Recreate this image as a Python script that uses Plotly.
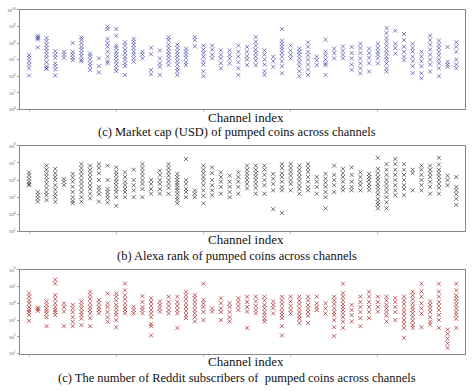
import plotly.graph_objects as go

# ---------------- data (one list per channel, index 0..49) ----------------
market_cap = [
    [1.9e7, 1.3e7, 8e6, 5e6, 3e6, 1.1e6],
    [2.8e8, 2.2e8, 2e8, 1.6e8, 5.5e7],
    [2e8, 1.3e8, 8e7, 5e7, 3.2e7, 2e7, 1.3e7, 7e6, 4e6, 3e6, 2.8e6],
    [3.2e7, 2e7, 1.3e7, 6e6, 4e6, 2.5e6, 1.1e6],
    [3e7, 2e7, 1.3e7],
    [1e8, 3e7, 2e7, 1.3e7, 9e6],
    [2.2e8, 1.6e8, 1e8, 6e7, 4e7, 2.5e7, 1.6e7, 1e7, 8e6],
    [2.3e7, 1.6e7, 1e7, 6e6, 4e6, 2.4e6],
    [1.2e7, 4e6, 1.7e6],
    [1e9, 7e8, 1.8e8, 1e8, 6e7, 3e7, 1.5e7, 8e6, 6e6],
    [7e8, 2.8e8, 7e7, 5e7, 3e7, 2e7, 1.3e7, 8e6, 5e6, 3e6, 2e6],
    [1.1e8, 7e7, 4e7, 2.5e7, 1.5e7, 1e7, 6e6, 4e6, 1.2e6],
    [1.8e8, 1.2e8, 8e7, 5e7, 3e7, 2e7, 1.2e7, 7.5e6],
    [3e7, 2e7, 1.2e7],
    [5.2e7, 2.1e7, 2.4e6, 1.3e6],
    [3.6e7, 1.2e7, 6e6, 3.7e6, 1.2e6],
    [2.2e8, 1.5e8, 8e7, 5e7, 3e7, 2e7, 1.3e7, 8e6, 4.7e6],
    [8e7, 5e7, 3e7, 2e7, 1.3e7, 8e6, 5e6, 3e6, 2e6, 1.2e6],
    [4.6e7, 3e7, 2e7, 1.3e7, 7e6, 4.7e6],
    [2.3e8, 1.5e8, 6.3e7],
    [7e7, 4e7, 2.5e7, 1.5e7, 8e6, 5e6, 2e6, 1e6],
    [7e7, 4e7, 2e7, 1.2e7],
    [3.6e7, 2e7, 1.2e7, 6e6, 3e6],
    [3.6e7, 2e7, 1.2e7, 5.9e6],
    [7e7, 3e7, 1.5e7, 7e6, 3e6, 1.2e6],
    [5.8e7, 3e7, 1.6e7, 1e7, 4.7e6],
    [2.3e8, 1.2e8, 7e7, 4e7, 2.5e7, 1.5e7, 9e6, 4.7e6],
    [3.6e7, 2e7, 1e7, 5e6, 2e6, 1.2e6],
    [1.5e7, 8e6, 3.7e6],
    [7e8, 1.4e8, 9e7, 6e7, 4e7, 2.5e7, 1.5e7, 8e6, 4e6, 1.5e6],
    [7e7, 3.5e7, 2e7, 1.2e7],
    [4.6e7, 3e7, 2e7, 1.2e7, 7e6, 4e6, 2e6, 1e6],
    [1.1e8, 6e7, 3e7, 1.8e7, 1e7, 5e6, 2.5e6, 1.2e6],
    [1.5e7, 9e6, 4.7e6],
    [1.6e8, 3e7, 1.8e7, 1e7, 6e6, 4.7e6, 1.2e6],
    [4.6e7, 2.5e7, 1.2e7],
    [6.3e7, 3.5e7, 2e7, 1.2e7],
    [5.8e7, 2.5e7, 1.2e7, 5e6, 2.4e6],
    [9e7, 5e7, 2.5e7, 1.2e7, 6e6, 3e6, 1.5e6],
    [4.6e7, 2.5e7, 1.3e7, 6e6, 1.9e6],
    [9e7, 5e7, 3e7, 2e7, 1.2e7, 5.9e6],
    [8e8, 4e8, 2e8, 1.2e8, 7e7, 4e7, 2.5e7, 1.5e7, 1e7, 6e6, 3e6, 1.9e6],
    [5.6e8, 9e7, 5e7, 2.3e7],
    [3.5e8, 1.5e8, 6e7, 3e7, 1.5e7, 9e6],
    [9e7, 5e7, 3e7, 1.5e7, 8e6, 4e6, 1.5e6],
    [3e7, 1.5e7, 8e6, 4e6, 1.5e6, 7.6e5],
    [2.8e8, 1.5e8, 8e7, 4e7, 2e7, 1e7, 5e6, 1.9e6],
    [1.4e8, 8e7, 5e7, 3e7, 1.8e7, 1e7, 6e6, 3e6, 1e6],
    [5.8e7, 7.4e6, 5e6, 3.7e6],
    [1.1e8, 6e7, 3e7, 1e7, 5e6, 3e6],
]

alexa_rank = [
    [2.8e6, 1.9e6, 1.2e6, 8e5, 6e5, 5e5],
    [2e5, 1.3e5, 8.5e4, 5.5e4],
    [6.9e6, 4e6, 2.5e6, 1.6e6, 1e6, 6e5, 3.5e5, 2e5, 1.3e5, 6.8e4],
    [4.5e6, 2.5e6, 1.5e6, 1e6, 5e5, 2.8e5, 1.6e5, 1e5, 5.5e4],
    [1.2e6, 8e5, 5e5],
    [2.3e6, 1.4e6, 8e5, 4e5, 2e5, 1e5, 6e4, 4.4e4],
    [8.5e6, 5e6, 3e6, 1.8e6, 1e6, 6e5, 3.5e5, 2e5, 1e5, 5.5e4],
    [6.9e6, 4e6, 2.5e6, 1.5e6, 9e5, 5e5, 3e5, 1.6e5, 8.5e4],
    [8.5e6, 5e6, 2.5e6, 1e6, 4e5, 2.5e5, 1.5e5, 5.5e4],
    [6.9e6, 1e6, 3e5, 2e5, 1.3e5, 8.5e4, 4.8e4],
    [5.5e6, 3e6, 2e6, 1.2e6, 8e5, 5e5, 3e5, 2e5, 1e5, 3.1e4],
    [2.8e6, 1.5e6, 8e5, 5e5, 3e5, 2e5, 1e5],
    [4e6, 1e6, 5e5, 2.5e5, 1e5],
    [8.5e6, 5e6, 3e6, 1.8e6, 1e6, 6e5, 3e5, 1e5],
    [1e6, 6e5, 3e5, 1.6e5],
    [3.5e6, 2e6, 1e6, 6e5, 3e5, 1.6e5],
    [8.5e6, 5e6, 3e6, 1.8e6, 1e6, 6e5, 3.5e5, 1.6e5],
    [2.3e6, 1.5e6, 1e6, 7e5, 5e5, 3.5e5, 2.5e5, 1.6e5, 1e5, 7e4, 4.4e4],
    [1.7e7, 1e6, 6e5, 3e5, 2e5, 1e5],
    [2.5e5, 1.6e5, 1e5],
    [6.9e6, 4e6, 2.5e6, 1.5e6, 9e5, 5e5, 2.5e5, 1.2e5, 4.4e4],
    [5.5e6, 2.5e6, 1e6, 5e5, 2.5e5, 1.3e5],
    [2.8e6, 1.5e6, 8e5, 4e5, 1.6e5],
    [1.8e6, 8e5, 4e5, 2e5, 1e5],
    [2.8e6, 1.5e6, 8e5, 4e5, 1.6e5],
    [6.9e6, 4e6, 2.5e6, 1.6e6, 1e6, 6e5, 3.2e5],
    [6.9e6, 4e6, 2.5e6, 1.6e6, 1e6, 6e5, 3.5e5, 1.6e5],
    [6.9e6, 4e6, 2e6, 1e6, 5e5, 1.6e5],
    [2.3e6, 1.2e6, 6e5, 2.5e5, 2e4],
    [8.5e6, 5e6, 2.5e6, 1.5e6, 8e5, 4e5, 2.5e5, 1.2e4],
    [8.5e6, 5e6, 3e6, 1.8e6, 1e6, 6e5, 2.5e5],
    [6.9e6, 4e6, 2.5e6, 1.5e6, 9e5, 5e5, 3e5, 1.6e5],
    [8.5e6, 5e6, 3e6, 1.5e6, 8e5, 4e5, 2.5e5],
    [1.5e6, 8e5, 4e5, 1.6e5],
    [2.3e6, 1.2e6, 7e5, 4e5, 2e5, 1e5, 2.2e4],
    [6.9e6, 2e6, 1e6, 5e5, 2e5],
    [4.5e6, 2.5e6, 1.5e6, 8e5, 4e5, 2.5e5],
    [5.5e6, 2e6, 8e5, 4e5, 2.5e5],
    [2.8e6, 1.5e6, 8e5, 5e5, 2.5e5],
    [2.3e6, 1.5e6, 1e6, 6e5, 4e5, 2.5e5],
    [2e7, 4.5e6, 2.5e6, 1.5e6, 1e6, 6e5, 4e5, 2.5e5, 1.5e5, 8e4, 5e4, 3.5e4, 2.2e4],
    [8.5e6, 4e6, 2e6, 1e6, 6e5, 3.5e5, 2e5, 1e5, 5e4, 2.2e4],
    [1.7e7, 8.5e6, 4e6, 2e6, 1e6, 5e5, 2.5e5, 1.3e5],
    [8.5e6, 4e6, 2e6, 1e6, 5e5, 3e5, 1.3e5],
    [4e6, 2.5e6, 2.5e5],
    [6.9e6, 4e6, 2e6, 1e6, 5e5, 2.5e5],
    [6.9e6, 4e6, 2.5e6, 1.5e6, 8e5, 4e5, 1.6e5],
    [2e7, 8e6, 4e6, 2.5e6, 1.6e6, 1e6, 6e5, 3.5e5, 1.6e5],
    [1.8e6, 1e6, 5e5],
    [1.5e6, 4e5, 2.5e5, 1.5e5, 8e4, 3.5e4],
]

reddit_subs = [
    [3.9e4, 2.5e4, 1.5e4, 1e4, 6e3, 4e3, 3e3, 2e3, 9e2],
    [5.6e3, 4.5e3, 3.5e3],
    [1.3e4, 8e3, 5e3, 3.5e3, 2.5e3, 1.5e3, 4.3e2],
    [2.6e5, 1.5e5, 3.1e4, 1.8e4, 1e4, 6e3, 4e3, 3e3, 2e3],
    [1e4, 6e3, 3.2e3, 4.3e2],
    [8e3, 5e3, 3e3, 1.5e3, 8e2, 4.3e2],
    [1.3e4, 8e3, 5e3, 3e3, 2e3, 1.2e3, 5e2],
    [4.9e4, 3e4, 1.8e4, 1e4, 6e3, 4e3, 2.5e3, 1.3e3, 4.3e2],
    [1.6e4, 1e4, 6e3, 4e3, 2.5e3],
    [3.9e4, 1e4, 6e3, 3e3, 1.5e3, 8e2],
    [3.9e4, 2.5e4, 1.5e4, 8e3, 5e3, 3e3, 2e3, 1e3, 3.7e2],
    [1.5e5, 6e4, 3e4, 1.8e4, 1e4, 6e3, 4e3, 2.5e3],
    [6.3e3, 4e3, 2.5e3],
    [2.7e4, 1.2e4, 6e3, 4e3, 2.5e3],
    [2e4, 1.2e4, 7e3, 4e3, 2.5e3, 1.5e3, 6e2, 4.3e2, 1.2e2],
    [1.3e4, 8e3, 5e3, 3.2e3],
    [2.5e4, 1.2e4, 7e3, 4e3, 2.5e3],
    [2.5e4, 1.2e4, 7e3, 4e3, 2.5e3, 3.4e2],
    [4.9e4, 3e4, 1.8e4, 1e4, 6e3, 3.5e3, 2e3, 1.3e3],
    [3.1e4, 2e4, 1.2e4, 7e3, 4e3, 2.5e3, 1.5e3, 8.3e2],
    [1.5e5, 1.6e4, 1e4, 6e3, 3e3, 1e3],
    [5e3, 3.2e3],
    [2e4, 1e4, 5e3, 3e3, 1e3],
    [1e4, 6e3, 3e3, 1.5e3, 8.3e2],
    [2e4, 1.2e4, 7e3, 4e3],
    [2.5e4, 1.2e4, 6e3, 3.2e3, 3.4e2],
    [2.5e4, 1.3e4, 7e3, 4e3, 2.5e3],
    [2.5e4, 1.5e4, 8e3, 5e3, 3e3, 2e3, 1.2e3, 8.3e2],
    [1.3e4, 8e3, 5e3, 2.5e3],
    [2.5e4, 1.5e4, 9e3, 5e3, 3e3, 2e3, 1.3e3, 4.3e2, 1.2e2],
    [2.5e4, 1.3e4, 7e3, 4e3, 2.5e3],
    [2.5e4, 1.5e4, 9e3, 5e3, 3e3, 1.8e3, 1.2e3, 6.6e2],
    [2.5e4, 1.5e4, 8e3, 5e3, 3e3, 1.8e3, 6.6e2],
    [2.5e4, 1e4, 6e3, 4e3],
    [1e4, 5e3, 2.5e3],
    [2.5e4, 1.5e4, 9e3, 5e3, 3e3, 2e3, 1e3, 3.7e2, 1.1e2],
    [1.5e5, 4e4, 2.5e4, 1.5e4, 9e3, 6e3, 4e3, 2.5e3, 1.5e3, 8e2, 3.4e2],
    [8e3, 4e3, 2e3, 8.3e2],
    [2.5e4, 1.2e4, 6e3, 3e3, 1.3e3, 4.3e2],
    [4.9e4, 2.5e4, 1.2e4, 6e3, 3e3, 1.3e3],
    [2.5e4, 1.2e4, 6e3, 3.2e3],
    [2.5e4, 1.5e4, 8e3, 5e3, 3e3, 1.8e3, 8.3e2],
    [2.1e4, 1.2e4, 6e3, 3e3, 1e3],
    [2.5e4, 1.5e4, 9e3, 5e3, 3e3, 1.8e3, 1e3, 6e2, 3.4e2, 8.7e1],
    [4.9e4, 3e4, 1.8e4, 1e4, 6e3, 4e3, 2.5e3, 1.5e3, 9e2, 5e2, 3.4e2],
    [1.5e5, 5e4, 2.5e4, 1e4, 5e3, 2.5e3, 3.7e2],
    [1.3e4, 8e3, 5e3, 3e3, 1.5e3, 8e2, 5.4e2],
    [1.5e5, 5e4, 2.5e4, 1.2e4, 7e3, 4e3, 2e3, 1e3, 3.4e2],
    [2.7e2, 1.5e2, 8e1, 4e1, 2.2e1],
    [1.5e5, 6e4, 3e4, 2e4, 1.3e4, 8e3, 5e3, 3e3, 2e3, 1.2e3, 3.4e2],
]

x_label = "Channel index"
captions = [
    "(c) Market cap (USD) of pumped coins across channels",
    "(b) Alexa rank of pumped coins across channels",
    "(c) The number of Reddit subscribers of  pumped coins across channels",
]
y_exponents = [[4, 5, 6, 7, 8, 9, 10], [3, 4, 5, 6, 7, 8], [1, 2, 3, 4, 5, 6]]
x_ticks = [0, 10, 20, 30, 40]

# ---------------- figure ----------------
W, H = 474, 391
panels = [
    (market_cap, "rgba(25,25,150,0.55)", (7, 108), 116, 131),
    (alexa_rank, "rgba(0,0,0,0.55)", (145, 232), 240.5, 256.5),
    (reddit_subs, "rgba(150,0,0,0.6)", (271, 356), 364.5, 380.5),
]

fig = go.Figure()
x_dom = [19.5 / W, 465 / W]
for i, (data, color, (ytop, ybot), lab_y, cap_y) in enumerate(panels):
    xs, ys = [], []
    for ch, vals in enumerate(data):
        xs += [ch] * len(vals)
        ys += vals
    sfx = "" if i == 0 else str(i + 1)
    fig.add_trace(go.Scatter(
        x=xs, y=ys, mode="markers", xaxis="x" + sfx, yaxis="y" + sfx,
        marker=dict(symbol="x-thin", size=4, color=color,
                    line=dict(width=1, color=color)),
        showlegend=False, hoverinfo="x+y"))
    exps = y_exponents[i]
    fig.layout["xaxis" + sfx] = dict(
        domain=x_dom, range=[-1.1, 50], anchor="y" + sfx,
        showline=True, mirror=True, linecolor="#8a8a8a", linewidth=1,
        showgrid=False, zeroline=False, ticks="outside", ticklen=2,
        tickcolor="#bbbbbb", tickvals=x_ticks, showticklabels=False)
    fig.layout["yaxis" + sfx] = dict(
        domain=[1 - ybot / H, 1 - ytop / H], type="log",
        range=[exps[0], exps[-1]], anchor="x" + sfx,
        showline=True, mirror=True, linecolor="#8a8a8a", linewidth=1,
        showgrid=False, zeroline=False, ticks="outside", ticklen=2,
        tickcolor="#999999",
        tickvals=[10 ** e for e in exps],
        ticktext=["10<sup>%d</sup>" % e for e in exps],
        tickfont=dict(size=5, color="#555555", family="Liberation Serif"))
    fig.add_annotation(text=x_label, x=0.52, y=1 - lab_y / H, xref="paper",
                       yref="paper", yanchor="middle", showarrow=False,
                       font=dict(size=13, color="#111", family="Liberation Serif"))
    fig.add_annotation(text=captions[i], x=0.5, y=1 - cap_y / H, xref="paper",
                       yref="paper", yanchor="middle", showarrow=False,
                       font=dict(size=12.5, color="#111", family="Liberation Serif"))

fig.update_layout(width=W, height=H, margin=dict(l=0, r=0, t=0, b=0),
                  plot_bgcolor="white", paper_bgcolor="white")
fig.write_html("out.html", config={"displayModeBar": False},
               post_script="document.body.style.margin='0';"
                           "document.body.style.overflow='hidden';")
